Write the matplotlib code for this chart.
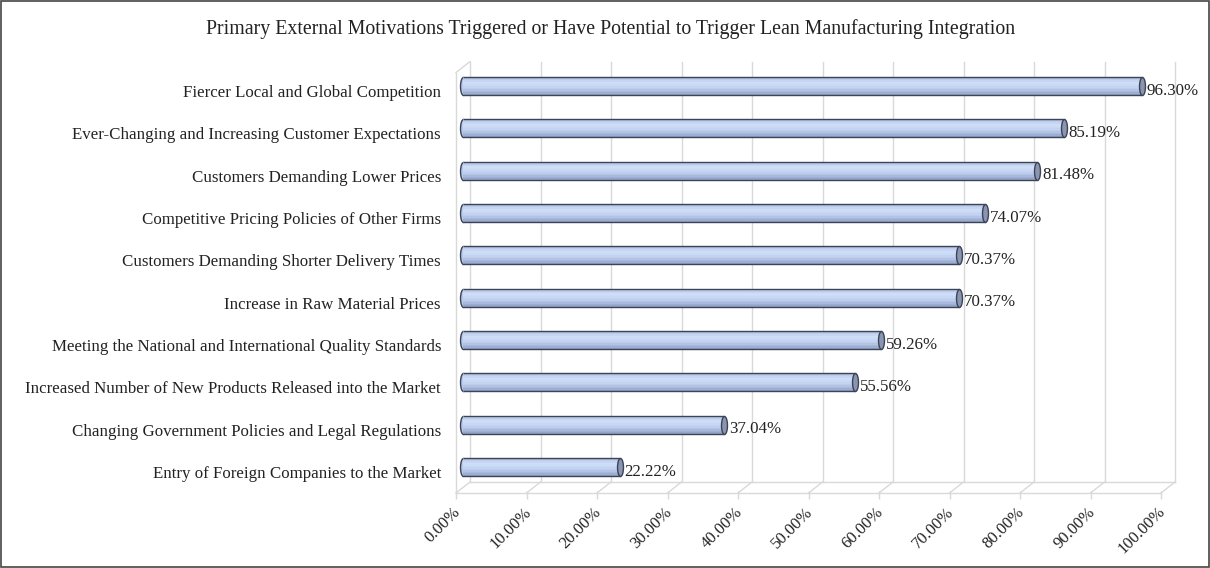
import numpy as np
import matplotlib
matplotlib.use("Agg")
import matplotlib.pyplot as plt
import matplotlib.transforms as mtransforms
from matplotlib.lines import Line2D
from matplotlib.patches import Rectangle
from matplotlib.path import Path
from matplotlib.markers import MarkerStyle
from matplotlib.colors import to_rgb

# data (top to bottom as in the chart)
categories = [
    "Fiercer Local and Global Competition",
    "Ever-Changing and Increasing Customer Expectations",
    "Customers Demanding Lower Prices",
    "Competitive Pricing Policies of Other Firms",
    "Customers Demanding Shorter Delivery Times",
    "Increase in Raw Material Prices",
    "Meeting the National and International Quality Standards",
    "Increased Number of New Products Released into the Market",
    "Changing Government Policies and Legal Regulations",
    "Entry of Foreign Companies to the Market",
]
values = [96.30, 85.19, 81.48, 74.07, 70.37, 70.37, 59.26, 55.56, 37.04, 22.22]
ticks = [0, 10, 20, 30, 40, 50, 60, 70, 80, 90, 100]
tick_labels = ["%.2f%%" % t for t in ticks]
title = "Primary External Motivations Triggered or Have Potential to Trigger Lean Manufacturing Integration"

plt.rcParams['font.family'] = ['Liberation Serif', 'DejaVu Serif']

W, H = 1210, 568
fig = plt.figure(figsize=(W / 100, H / 100), dpi=100)
ax = fig.add_axes([463 / W, (H - 487.5) / H, 705 / W, (487.5 - 67) / H])
y0, y1 = -0.48, 9.45
ax.set_xlim(0, 100)
ax.set_ylim(y0, y1)
ax.axis('off')

def shift(dx, dy):
    return ax.transData + mtransforms.ScaledTranslation(dx / 100, dy / 100, fig.dpi_scale_trans)

back = shift(7, 5.5)
front = shift(-7, -5.5)
grid = '#d9d9d9'

# back wall gridlines, floor and side wall
for t in ticks:
    ax.plot([t, t], [y0, y1], color=grid, lw=1, transform=back, zorder=0, clip_on=False)
ax.plot([0, 100], [y0, y0], color=grid, lw=1, transform=back, zorder=0, clip_on=False)
ax.plot([0, 100], [y0, y0], color=grid, lw=1, transform=front, zorder=0, clip_on=False)
ax.plot([0, 0], [y0, y1], color=grid, lw=1, transform=front, zorder=0, clip_on=False)
ax.plot(ticks, [y0] * len(ticks), ls='none', marker='|', ms=6, mew=1,
        color=grid, transform=shift(-7, -7.5), zorder=0, clip_on=False)

def diag(x, y):
    p = front.transform((x, y))
    q = back.transform((x, y))
    fig.add_artist(Line2D([p[0], q[0]], [p[1], q[1]], color=grid, lw=1,
                          transform=mtransforms.IdentityTransform(), zorder=0))

fig.canvas.draw()
for t in ticks:
    diag(t, y0)
diag(0, y1)

# cylinders
ell = Path(Path.unit_circle().vertices * [0.33, 1], Path.unit_circle().codes)
ell = MarkerStyle(ell)
stops = [0.0, 0.3, 0.6, 1.0]
cols = np.array([to_rgb(c) for c in ['#aebfe0', '#d0def8', '#c0d0f0', '#8e9fc4']])
h = 0.425
n = 12
edge = '#3b4357'
ypos = np.arange(len(categories))[::-1]
for yi, v, name in zip(ypos, values, categories):
    for k in range(n):
        f = (k + 0.5) / n
        c = [np.interp(f, stops, cols[:, j]) for j in range(3)]
        ax.barh(yi + h / 2 - (k + 0.5) * h / n, v, height=h / n * 1.05, left=0,
                color=c, lw=0, zorder=2)
    ax.plot(0, yi, marker=ell, ms=13, mfc='#b8c9ea', mec=edge, mew=1, zorder=1.5,
            clip_on=False)
    ax.hlines([yi - h / 2, yi + h / 2], 0, v, colors=edge, lw=1, zorder=3)
    ax.plot(v, yi, marker=ell, ms=13, mfc='#8a95b0', mec=edge, mew=1, zorder=4)
    ax.text(v, yi, "%.2f%%" % v, transform=shift(5, -4.5), ha='left', va='center',
            fontsize=12.2, color='#222222')
    ax.text(0, yi, name, transform=shift(-22, -7), ha='right', va='center',
            fontsize=12.2, color='#222222')

# x tick labels
for t, lab in zip(ticks, tick_labels):
    ax.text(t, y0, lab, transform=shift(-5, -22), rotation=45, ha='right', va='center',
            rotation_mode='anchor', fontsize=12, color='#222222')

fig.text(611 / W, 1 - 29 / H, title, ha='center', va='center', fontsize=14.3, color='#222222')
fig.patches.append(Rectangle((0.001, 0.002), 0.998, 0.996, transform=fig.transFigure,
                             fill=False, edgecolor='#444444', lw=1.2))

fig.savefig('out.png', dpi=100)
